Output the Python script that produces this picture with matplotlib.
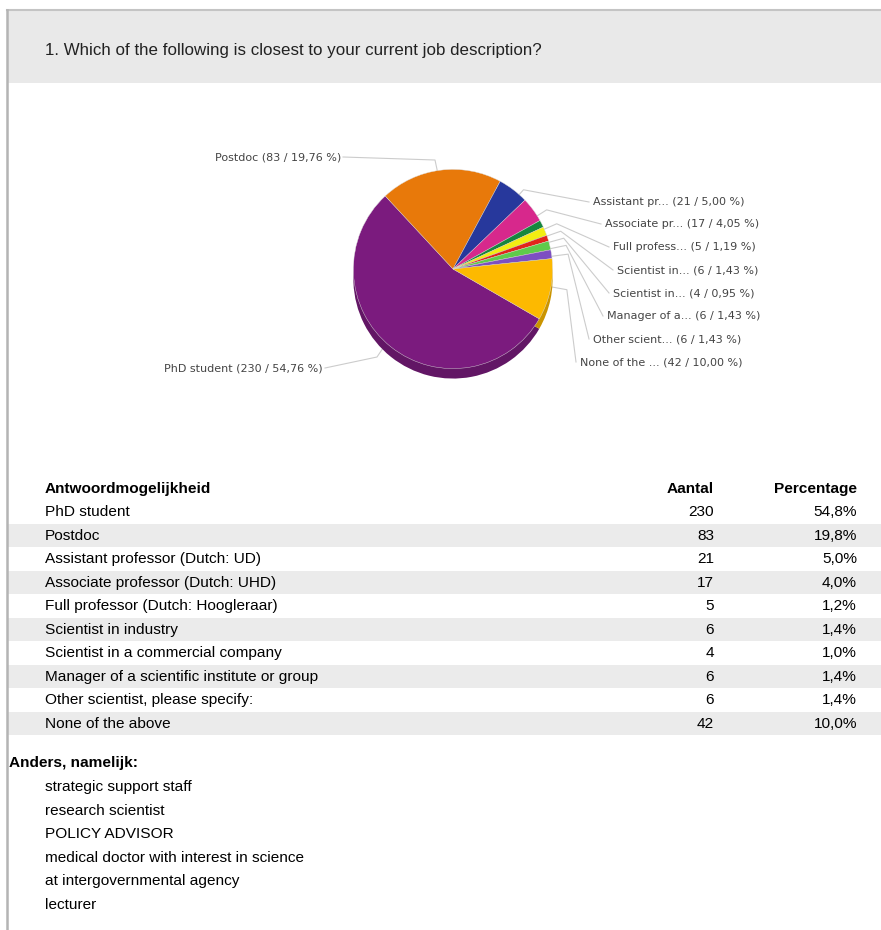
import numpy as np
import matplotlib
matplotlib.use("Agg")
from matplotlib import pyplot as plt
from matplotlib.patches import Rectangle

plt.rcParams["font.family"] = ["Liberation Sans", "DejaVu Sans"]

question = "1. Which of the following is closest to your current job description?"
answers = [
    "PhD student",
    "Postdoc",
    "Assistant professor (Dutch: UD)",
    "Associate professor (Dutch: UHD)",
    "Full professor (Dutch: Hoogleraar)",
    "Scientist in industry",
    "Scientist in a commercial company",
    "Manager of a scientific institute or group",
    "Other scientist, please specify:",
    "None of the above",
]
counts = [230, 83, 21, 17, 5, 6, 4, 6, 6, 42]
colors = ["#7b1b7e", "#e8790a", "#27389c", "#d7288c", "#16873e",
          "#f2ee12", "#e1251b", "#5fcb4b", "#7d4fc2", "#fdb900"]
other_answers = [
    "strategic support staff",
    "research scientist",
    "POLICY ADVISOR",
    "medical doctor with interest in science",
    "at intergovernmental agency",
    "lecturer",
]

W, H = 881, 930
total = sum(counts)
pcts = [100.0 * c / total for c in counts]
FS = 11.1  # table text size


def nl(x, nd):
    return f"{x:.{nd}f}".replace(".", ",")


def short(name):
    return name if len(name) <= 12 else name[:12] + "..."


fig = plt.figure(figsize=(W / 100, H / 100), dpi=100)
page = fig.add_axes([0, 0, 1, 1])
page.set_xlim(0, W)
page.set_ylim(H, 0)
page.axis("off")
page.set_zorder(1)

# frame + question header
page.add_patch(Rectangle((8, 11), W - 8, 72, color="#e9e9e9", lw=0))
page.plot([7, W], [10.5, 10.5], color="#c4c4c4", lw=1.5)
page.plot([7, 7], [10, H], color="#b4b4b4", lw=1.8)
page.text(45, 50, question, fontsize=12.2, color="#222222", va="center")

# pie, squashed vertically to look tilted
cx, cy, rx, ry = 453, 269, 97, 83
pie_ax = fig.add_axes([(cx - 1.5 * rx) / W, (H - cy - 1.5 * ry) / H, 3 * rx / W, 3 * ry / H])
pie_ax.set_xlim(-1.5, 1.5)
pie_ax.set_ylim(-1.5, 1.5)
pie_ax.set_aspect("auto")
pie_ax.axis("off")
pie_ax.set_zorder(2)
start = -30
dark = [tuple(0.8 * np.array(matplotlib.colors.to_rgb(c))) for c in colors]
pie_ax.pie(counts, colors=dark, startangle=start, counterclock=False,
           center=(0, -0.1), radius=1, wedgeprops=dict(lw=0))
pie_ax.pie(counts, colors=colors, startangle=start, counterclock=False,
           radius=1, wedgeprops=dict(lw=0.3, edgecolor="#dddddd"))

# slice mid angles, in the same clockwise order as the pie
cum = np.cumsum([0] + counts)
mids = [start - 360.0 * (cum[i] + cum[i + 1]) / 2 / total for i in range(len(counts))]


def edge_pt(ang, r=1.0):
    a = np.radians(ang)
    return cx + r * rx * np.cos(a), cy - r * ry * np.sin(a)


line_kw = dict(color="#cccccc", lw=0.8, zorder=0)
lab_kw = dict(fontsize=8, color="#444444", family="DejaVu Sans", va="center")

# left side labels
x0, y0 = edge_pt(mids[1])
page.plot([x0, 435, 343], [y0, 160, 157], **line_kw)
page.text(341, 157, f"{answers[1]} ({counts[1]} / {nl(pcts[1], 2)} %)", ha="right", **lab_kw)
x0, y0 = edge_pt(mids[0])
page.plot([x0, 377, 325], [y0, 357, 368], **line_kw)
page.text(323, 368, f"{answers[0]} ({counts[0]} / {nl(pcts[0], 2)} %)", ha="right", **lab_kw)

# right side labels
lab_x = [593, 605, 613, 617, 613, 607, 593, 580]
lab_y = [202, 224, 247, 270, 293, 316, 339, 362]
for k, i in enumerate(range(2, 10)):
    x0, y0 = edge_pt(mids[i])
    x1, y1 = edge_pt(mids[i], 1.2)
    page.plot([x0, x1, lab_x[k] - 4], [y0, y1, lab_y[k]], **line_kw)
    page.text(lab_x[k], lab_y[k], f"{short(answers[i])} ({counts[i]} / {nl(pcts[i], 2)} %)",
              ha="left", **lab_kw)

# answer table
row0, dy = 512, 23.5
page.text(45, 489, "Antwoordmogelijkheid", fontsize=FS, weight="bold", va="center")
page.text(714, 489, "Aantal", fontsize=FS, weight="bold", va="center", ha="right")
page.text(857, 489, "Percentage", fontsize=FS, weight="bold", va="center", ha="right")
for i, name in enumerate(answers):
    y = row0 + i * dy
    if i % 2 == 1:
        page.add_patch(Rectangle((8, y - dy / 2), W - 8, dy, color="#ebebeb", lw=0, zorder=0))
    page.text(45, y, name, fontsize=FS, va="center")
    page.text(714, y, str(counts[i]), fontsize=FS, va="center", ha="right")
    page.text(857, y, nl(pcts[i], 1) + "%", fontsize=FS, va="center", ha="right")

# free text answers
page.text(9, 763, "Anders, namelijk:", fontsize=FS, weight="bold", va="center")
for i, t in enumerate(other_answers):
    page.text(45, 787 + i * 23.6, t, fontsize=FS, va="center")

fig.savefig("out.png", dpi=100)
